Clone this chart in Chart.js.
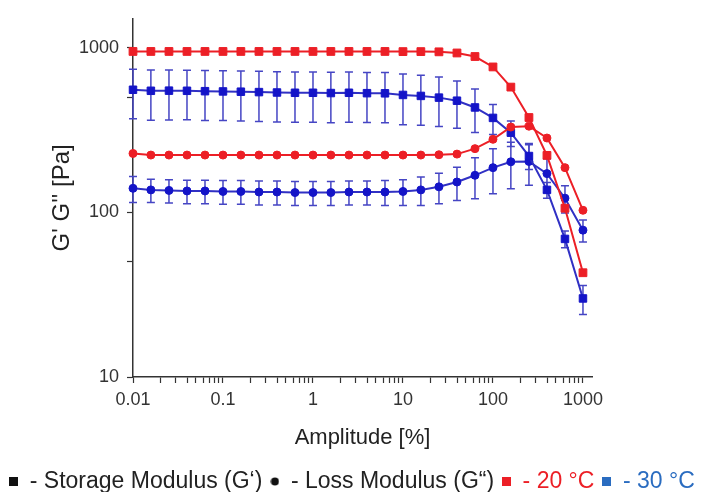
<!DOCTYPE html>
<html>
<head>
<meta charset="utf-8">
<script src="https://cdn.jsdelivr.net/npm/chart.js@4.4.1/dist/chart.umd.min.js"></script>
<style>
  html, body { margin: 0; padding: 0; background: #fff; }
</style>
</head>
<body>
<canvas id="chart" width="704" height="492"></canvas>
<script>
// amplitude sweep, 5 points per decade
const amplitude = [0.01, 0.0158, 0.0251, 0.0398, 0.0631, 0.1, 0.158, 0.251, 0.398, 0.631,
  1, 1.58, 2.51, 3.98, 6.31, 10, 15.8, 25.1, 39.8, 63.1, 100, 158, 251, 398, 631, 1000];

// 20 °C (red)
const storage20 = [950, 950, 950, 950, 950, 950, 950, 950, 950, 950, 950, 950, 950, 950, 950,
  948, 948, 945, 930, 885, 765, 577, 377, 222, 106, 43];
const loss20 = [228, 223, 223, 223, 223, 223, 223, 223, 223, 223, 223, 223, 223, 223, 223,
  223, 223, 224, 226, 244, 278, 330, 334, 283, 187, 103];

// 30 °C (blue), with standard deviation
const storage30 = [556, 548, 549, 548, 545, 543, 541, 538, 535, 533, 533, 531, 533, 530, 529,
  517, 510, 498, 477, 434, 375, 305, 220, 137, 69, 30];
const storage30Err = [185, 185, 185, 183, 183, 182, 182, 181, 181, 180, 180, 180, 180, 178, 178,
  176, 172, 166, 152, 128, 78, 54, 38, 15, 8, 6];
const loss30 = [140, 137, 136, 135, 135, 134, 134, 133, 133, 132, 132, 132, 133, 133, 133,
  134, 137, 143, 153, 168, 187, 203, 204, 172, 122, 78];
const loss30Err = [25, 22, 22, 22, 22, 22, 22, 22, 22, 22, 22, 22, 22, 22, 23,
  24, 27, 30, 35, 47, 57, 64, 58, 40, 23, 12];

// axes
const xMajorTicks = [0.01, 0.1, 1, 10, 100, 1000];
const xTickLabels = ['0.01', '0.1', '1', '10', '100', '1000'];
const xMinorSteps = [2, 3, 4, 5, 6, 7, 8, 9];
const yMajorTicks = [10, 100, 1000];
const yTickLabels = ['10', '100', '1000'];
const yMinorTicks = [50, 500];

const RED = '#ec1f26';
const BLUE = '#1414c8';
const BLUE_LINE = '#3030c4';
const LEGEND_BLUE = '#2a6cc0';
const AXIS = '#333';
const FONT = "'Liberation Sans', Arial, sans-serif";

const pts = (vals) => vals.map((v, i) => ({ x: amplitude[i], y: v }));

const xTicks = [];
xMajorTicks.forEach((m) => {
  xTicks.push(m);
  if (m < 1000) xMinorSteps.forEach((s) => xTicks.push(+(m * s).toPrecision(3)));
});
const yTicks = [...yMajorTicks, ...yMinorTicks].sort((a, b) => a - b);

function dot(color, d) {
  const c = document.createElement('canvas');
  c.width = c.height = d;
  const g = c.getContext('2d');
  g.fillStyle = color;
  g.beginPath();
  g.arc(d / 2, d / 2, d / 2 - 0.5, 0, Math.PI * 2);
  g.fill();
  return c;
}
function box(color, d) {
  const c = document.createElement('canvas');
  c.width = c.height = d;
  const g = c.getContext('2d');
  g.fillStyle = color;
  g.fillRect(0, 0, d, d);
  return c;
}

const errorBars = {
  id: 'errorBars',
  beforeDatasetsDraw(chart) {
    const { ctx, scales: { x, y } } = chart;
    chart.data.datasets.forEach((ds, i) => {
      if (!ds.errors || !chart.isDatasetVisible(i)) return;
      ctx.save();
      ctx.strokeStyle = ds.errorColor;
      ctx.lineWidth = 1.5;
      ds.data.forEach((p, j) => {
        const e = ds.errors[j];
        const px = x.getPixelForValue(p.x);
        const top = y.getPixelForValue(p.y + e);
        const bot = y.getPixelForValue(p.y - e);
        ctx.beginPath();
        ctx.moveTo(px, top); ctx.lineTo(px, bot);
        ctx.moveTo(px - 4, top); ctx.lineTo(px + 4, top);
        ctx.moveTo(px - 4, bot); ctx.lineTo(px + 4, bot);
        ctx.stroke();
      });
      ctx.restore();
    });
  }
};

const legendItems = [
  { text: '- Storage Modulus (G‘)', pointStyle: box('#111', 9), fontColor: '#222' },
  { text: '- Loss Modulus (G“)', pointStyle: dot('#111', 9), fontColor: '#222' },
  { text: '- 20 °C', pointStyle: box(RED, 9), fontColor: RED },
  { text: '- 30 °C', pointStyle: box(LEGEND_BLUE, 9), fontColor: LEGEND_BLUE }
];

const ctx = document.getElementById('chart').getContext('2d');

new Chart(ctx, {
  type: 'line',
  data: {
    datasets: [
      {
        label: 'G\' 20 °C', data: pts(storage20),
        borderColor: RED, backgroundColor: RED, pointStyle: 'rect', pointRadius: 5.5
      },
      {
        label: 'G" 20 °C', data: pts(loss20),
        borderColor: RED, backgroundColor: RED, pointStyle: 'circle', pointRadius: 4
      },
      {
        label: 'G\' 30 °C', data: pts(storage30), errors: storage30Err, errorColor: '#4545c4',
        borderColor: BLUE_LINE, backgroundColor: BLUE, pointBorderColor: BLUE, pointStyle: 'rect', pointRadius: 5.3
      },
      {
        label: 'G" 30 °C', data: pts(loss30), errors: loss30Err, errorColor: '#4545c4',
        borderColor: BLUE_LINE, backgroundColor: BLUE, pointBorderColor: BLUE, pointStyle: 'circle', pointRadius: 4
      }
    ]
  },
  options: {
    responsive: false,
    animation: false,
    devicePixelRatio: 1,
    layout: { padding: { top: 16, left: 0, right: 0, bottom: -11 } },
    elements: {
      line: { borderWidth: 2, tension: 0 },
      point: { borderWidth: 1 }
    },
    datasets: { line: { clip: false } },
    plugins: {
      tooltip: { enabled: false },
      legend: {
        position: 'bottom',
        labels: {
          usePointStyle: true,
          boxWidth: 9,
          boxHeight: 9,
          padding: 8,
          font: { family: FONT, size: 23 },
          color: '#222',
          generateLabels: () => legendItems.map((it) => ({
            text: it.text,
            pointStyle: it.pointStyle,
            fontColor: it.fontColor,
            fillStyle: it.fontColor,
            strokeStyle: it.fontColor,
            lineWidth: 0,
            hidden: false
          }))
        },
        onClick: () => {}
      }
    },
    scales: {
      x: {
        type: 'logarithmic',
        position: 'bottom',
        min: 0.01,
        max: 1260,
        afterBuildTicks: (s) => { s.ticks = xTicks.map((v) => ({ value: v })); },
        afterFit: (s) => {
          const lg = s.chart.legend ? s.chart.legend.height : 0;
          s.height = s.chart.height + 11 - lg - 377;
        },
        ticks: {
          autoSkip: false, maxRotation: 0, minRotation: 0, padding: 6,
          color: AXIS, font: { family: FONT, size: 18 },
          callback: (v) => {
            const i = xMajorTicks.indexOf(v);
            return i >= 0 ? xTickLabels[i] : '';
          }
        },
        grid: { drawOnChartArea: false, drawTicks: true, tickLength: 6, tickColor: AXIS, tickWidth: 1.2 },
        border: { display: true, color: AXIS, width: 1.5 },
        title: {
          display: true, text: 'Amplitude [%]', color: '#222',
          font: { family: FONT, size: 22 }, padding: { top: 0, bottom: 11 }
        }
      },
      y: {
        type: 'logarithmic',
        position: 'left',
        min: 10,
        max: 1500,
        afterBuildTicks: (s) => { s.ticks = yTicks.map((v) => ({ value: v })); },
        afterFit: (s) => { s.width = 133; },
        ticks: {
          autoSkip: false, padding: 8,
          color: AXIS, font: { family: FONT, size: 18 },
          callback: (v) => {
            const i = yMajorTicks.indexOf(v);
            return i >= 0 ? yTickLabels[i] : '';
          }
        },
        grid: { drawOnChartArea: false, drawTicks: true, tickLength: 6, tickColor: AXIS, tickWidth: 1.2 },
        border: { display: true, color: AXIS, width: 1.5 },
        title: {
          display: true, text: "G' G'' [Pa]", color: '#222',
          font: { family: FONT, size: 24 }, padding: { top: 48, bottom: 0 }
        }
      },
      pad: {
        type: 'linear',
        position: 'right',
        display: true,
        afterFit: (s) => { s.width = 112; },
        ticks: { display: false },
        grid: { display: false },
        border: { display: false }
      }
    }
  },
  plugins: [errorBars]
});
</script>
</body>
</html>
